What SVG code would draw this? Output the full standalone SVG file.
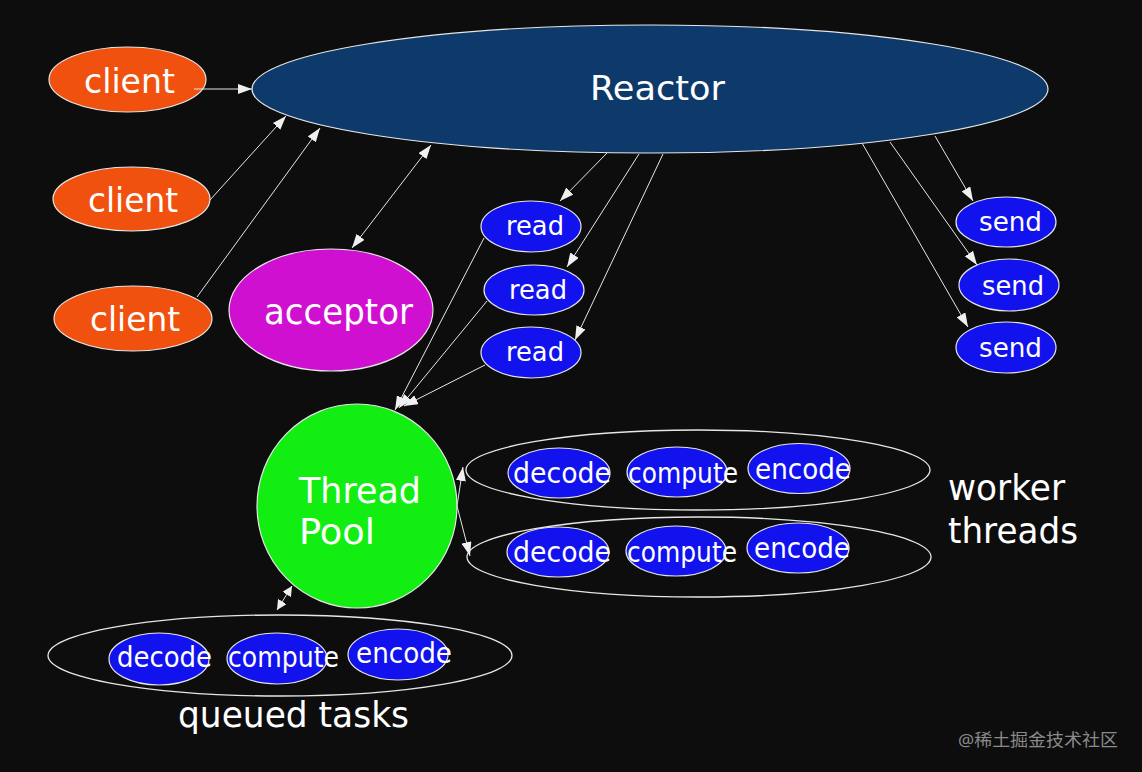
<svg xmlns="http://www.w3.org/2000/svg" width="1142" height="772" viewBox="0 0 1142 772">
<defs>
<marker id="ah" viewBox="0 0 14 10" refX="14" refY="5" markerWidth="14" markerHeight="10" markerUnits="userSpaceOnUse" orient="auto-start-reverse">
<path d="M0,0 L14,5 L0,10 z" fill="#f0f0f0"/>
</marker>
<marker id="ahs" viewBox="0 0 10 10" refX="10" refY="5" markerWidth="10" markerHeight="10" markerUnits="userSpaceOnUse" orient="auto-start-reverse">
<path d="M0,0 L10,5 L0,10 z" fill="#f0f0f0"/>
</marker>
<style>
.bg{fill:#0d0d0d}
.n{stroke:#e6e6e6;stroke-width:1.2}
.client{fill:#f0510e}
.blue{fill:#1212ef}
.grp{fill:none;stroke:#e6e6e6;stroke-width:1.3}
.t{font-family:"DejaVu Sans","Liberation Sans",sans-serif;fill:#ffffff}
.c line{stroke:#e6e6e6;stroke-width:1}
.a{marker-end:url(#ah)}
.d{marker-start:url(#ah);marker-end:url(#ah)}
.ds{marker-start:url(#ahs);marker-end:url(#ahs)}
</style>
</defs>
<rect class="bg" x="0" y="0" width="1142" height="772"/>

<g id="groups">
<ellipse class="grp" cx="698" cy="470" rx="232" ry="40"/>
<ellipse class="grp" cx="699" cy="557" rx="232" ry="40"/>
<ellipse class="grp" cx="280" cy="655.5" rx="232" ry="40.5"/>
</g>

<g id="reactor">
<ellipse class="n" cx="650" cy="89" rx="398" ry="64" fill="#0d3a6b"/>
<text class="t" x="590" y="100" font-size="33" textLength="135" lengthAdjust="spacingAndGlyphs">Reactor</text>
</g>

<g id="client1">
<ellipse class="n client" cx="127.5" cy="79.5" rx="78.5" ry="32.5"/>
<text class="t" x="84" y="93" font-size="34" textLength="91" lengthAdjust="spacingAndGlyphs">client</text>
</g>
<g id="client2">
<ellipse class="n client" cx="131.5" cy="199" rx="78.5" ry="32"/>
<text class="t" x="88" y="212" font-size="34" textLength="90" lengthAdjust="spacingAndGlyphs">client</text>
</g>
<g id="client3">
<ellipse class="n client" cx="133" cy="318.5" rx="79" ry="32.5"/>
<text class="t" x="90" y="331" font-size="34" textLength="90" lengthAdjust="spacingAndGlyphs">client</text>
</g>

<g id="acceptor">
<ellipse class="n" cx="331" cy="310" rx="102" ry="61" fill="#d010d0"/>
<text class="t" x="264" y="324" font-size="36" textLength="149" lengthAdjust="spacingAndGlyphs">acceptor</text>
</g>

<g id="read1">
<ellipse class="n blue" cx="531" cy="226.5" rx="50" ry="25.5"/>
<text class="t" x="506" y="235" font-size="26" textLength="58" lengthAdjust="spacingAndGlyphs">read</text>
</g>
<g id="read2">
<ellipse class="n blue" cx="534" cy="290" rx="50" ry="25"/>
<text class="t" x="509" y="299" font-size="26" textLength="58" lengthAdjust="spacingAndGlyphs">read</text>
</g>
<g id="read3">
<ellipse class="n blue" cx="531" cy="352.5" rx="50" ry="25.5"/>
<text class="t" x="506" y="361" font-size="26" textLength="58" lengthAdjust="spacingAndGlyphs">read</text>
</g>

<g id="send1">
<ellipse class="n blue" cx="1006" cy="222" rx="50" ry="25"/>
<text class="t" x="979" y="231" font-size="26" textLength="63" lengthAdjust="spacingAndGlyphs">send</text>
</g>
<g id="send2">
<ellipse class="n blue" cx="1009" cy="285" rx="50" ry="26"/>
<text class="t" x="982" y="295" font-size="26" textLength="62" lengthAdjust="spacingAndGlyphs">send</text>
</g>
<g id="send3">
<ellipse class="n blue" cx="1006" cy="347.5" rx="50" ry="25.5"/>
<text class="t" x="979" y="357" font-size="26" textLength="63" lengthAdjust="spacingAndGlyphs">send</text>
</g>

<g id="threadpool">
<ellipse class="n" cx="357" cy="506" rx="100" ry="102" fill="#12ee12"/>
<text class="t" x="299" y="503" font-size="36" textLength="122" lengthAdjust="spacingAndGlyphs">Thread</text>
<text class="t" x="299" y="544" font-size="36" textLength="76" lengthAdjust="spacingAndGlyphs">Pool</text>
</g>

<g id="w1decode">
<ellipse class="n blue" cx="559" cy="473" rx="51" ry="25"/>
<text class="t" x="513" y="483" font-size="29" textLength="98" lengthAdjust="spacingAndGlyphs">decode</text>
</g>
<g id="w1compute">
<ellipse class="n blue" cx="677" cy="472" rx="50" ry="25"/>
<text class="t" x="628" y="483" font-size="29" textLength="110" lengthAdjust="spacingAndGlyphs">compute</text>
</g>
<g id="w1encode">
<ellipse class="n blue" cx="799" cy="468.5" rx="51" ry="25"/>
<text class="t" x="755" y="479" font-size="29" textLength="96" lengthAdjust="spacingAndGlyphs">encode</text>
</g>

<g id="w2decode">
<ellipse class="n blue" cx="558" cy="552" rx="51" ry="25"/>
<text class="t" x="513" y="562" font-size="29" textLength="98" lengthAdjust="spacingAndGlyphs">decode</text>
</g>
<g id="w2compute">
<ellipse class="n blue" cx="676" cy="551" rx="50" ry="25"/>
<text class="t" x="627" y="562" font-size="29" textLength="110" lengthAdjust="spacingAndGlyphs">compute</text>
</g>
<g id="w2encode">
<ellipse class="n blue" cx="798" cy="548" rx="51" ry="25"/>
<text class="t" x="754" y="558" font-size="29" textLength="96" lengthAdjust="spacingAndGlyphs">encode</text>
</g>

<g id="qdecode">
<ellipse class="n blue" cx="159" cy="659" rx="50" ry="26"/>
<text class="t" x="117" y="667" font-size="28" textLength="95" lengthAdjust="spacingAndGlyphs">decode</text>
</g>
<g id="qcompute">
<ellipse class="n blue" cx="277" cy="658.5" rx="50" ry="25.5"/>
<text class="t" x="228" y="667" font-size="28" textLength="111" lengthAdjust="spacingAndGlyphs">compute</text>
</g>
<g id="qencode">
<ellipse class="n blue" cx="398" cy="654.5" rx="50" ry="25.5"/>
<text class="t" x="356" y="663" font-size="28" textLength="96" lengthAdjust="spacingAndGlyphs">encode</text>
</g>

<g id="labels">
<text class="t" x="948" y="500" font-size="35" textLength="117" lengthAdjust="spacingAndGlyphs">worker</text>
<text class="t" x="948" y="543" font-size="35" textLength="130" lengthAdjust="spacingAndGlyphs">threads</text>
<text class="t" x="178" y="727" font-size="35" textLength="231" lengthAdjust="spacingAndGlyphs">queued tasks</text>
<text x="958" y="746" font-size="17" fill="#8a8a8a" font-family="'Noto Sans','Noto Sans CJK SC',sans-serif" textLength="160" lengthAdjust="spacingAndGlyphs">@稀土掘金技术社区</text>
</g>

<g id="connectors" class="c">
<line class="a" x1="194" y1="89" x2="252" y2="89"/>
<line class="a" x1="210" y1="200" x2="286" y2="116"/>
<line class="a" x1="197" y1="297" x2="320" y2="128"/>
<line class="d" x1="352" y1="248" x2="431" y2="145"/>
<line class="a" x1="607" y1="153" x2="560" y2="201"/>
<line class="a" x1="639" y1="154" x2="567" y2="267"/>
<line class="a" x1="663" y1="154" x2="575" y2="340"/>
<line class="a" x1="935" y1="136" x2="973" y2="201"/>
<line class="a" x1="890" y1="142" x2="977" y2="265"/>
<line class="a" x1="862" y1="143" x2="968" y2="327"/>
<line class="a" x1="484" y1="238" x2="395" y2="410"/>
<line class="a" x1="487" y1="301" x2="399" y2="408"/>
<line class="a" x1="485" y1="365" x2="404" y2="406"/>
<line class="a" x1="457" y1="506" x2="463" y2="467"/>
<line class="a" x1="457" y1="506" x2="470" y2="556"/>
<line class="ds" x1="277" y1="610" x2="292" y2="586"/>
</g>
</svg>
